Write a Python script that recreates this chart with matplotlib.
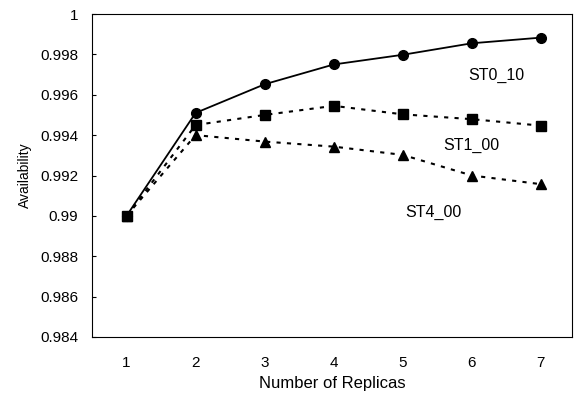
import matplotlib.pyplot as plt
import numpy as np

plt.rcParams['font.family'] = ['Liberation Sans', 'DejaVu Sans']

replicas = [1, 2, 3, 4, 5, 6, 7]
st0_10 = [0.990, 0.9951, 0.99652, 0.99750, 0.99798, 0.99855, 0.99883]
st1_00 = [0.990, 0.9945, 0.99500, 0.99545, 0.99503, 0.99479, 0.99447]
st4_00 = [0.990, 0.9940, 0.99368, 0.99343, 0.99302, 0.99200, 0.99157]

fig = plt.figure(figsize=(5.76, 3.96), dpi=100)
ax = fig.add_axes([92/576, 1 - 337/396, 480/576, 323/396])

ax.plot(replicas, st0_10, color='black', marker='o', markersize=7, linestyle='-', linewidth=1.3)
ax.plot(replicas, st1_00, color='black', marker='s', markersize=7, linestyle=(0, (2, 3)), linewidth=1.5)
ax.plot(replicas, st4_00, color='black', marker='^', markersize=7, linestyle=(0, (2, 3)), linewidth=1.5)

# curve labels
ax.text(6.36, 0.99698, 'ST0_10', fontsize=11.5, ha='center', va='center')
ax.text(5.99, 0.99347, 'ST1_00', fontsize=11.5, ha='center', va='center')
ax.text(5.44, 0.99015, 'ST4_00', fontsize=11.5, ha='center', va='center')

ax.set_xlim(0.5, 7.45)
ax.set_ylim(0.984, 1.0)
ax.set_xticks(replicas)
ax.set_yticks(np.arange(0.984, 1.0001, 0.002))
ax.set_yticklabels(['0.984', '0.986', '0.988', '0.99', '0.992', '0.994', '0.996', '0.998', '1'])
ax.tick_params(axis='y', direction='in', length=3, labelsize=11, pad=10)
ax.tick_params(axis='x', length=0, labelsize=11, pad=14)
ax.set_xlabel('Number of Replicas', fontsize=12, labelpad=4)
ax.set_ylabel('Availability', fontsize=10, labelpad=6)

fig.savefig('out.png', dpi=100)
